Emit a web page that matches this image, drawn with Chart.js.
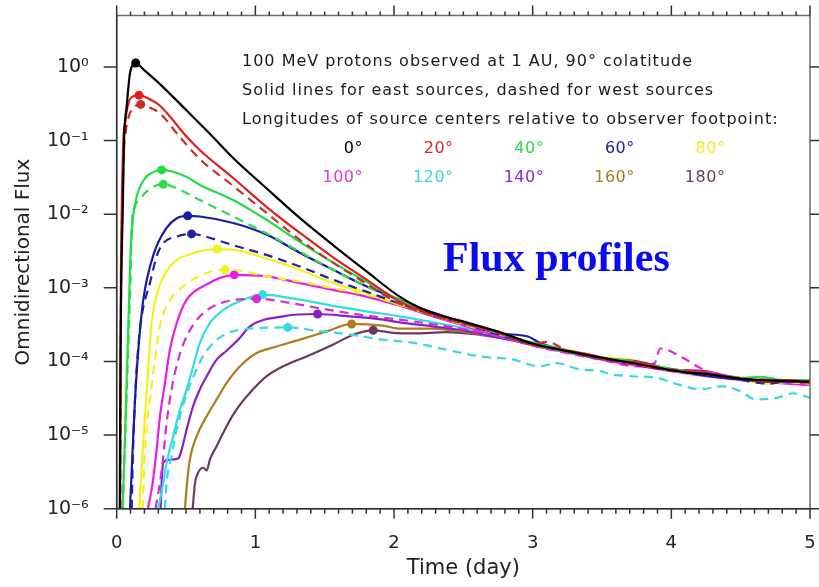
<!DOCTYPE html>
<html>
<head>
<meta charset="utf-8">
<title>Flux profiles</title>
<script src="https://cdn.jsdelivr.net/npm/chart.js@4.4.0/dist/chart.umd.min.js"></script>
<style>
    html, body { margin: 0; padding: 0; background: #fff; }
    #wrap { width: 819px; height: 587px; }
</style>
</head>
<body>
<div id="wrap"><canvas id="fluxChart" width="819" height="587"></canvas></div>
<script>
// [time (day), omnidirectional flux]
const east0 = [[0.022,1e-6],[0.027,1e-4],[0.032,1e-3],[0.043,1e-2],[0.053,0.1],[0.072,0.29],[0.096,0.82],[0.137,1.13],[0.2,0.9],[0.31,0.59],[0.51,0.25],[0.67,0.125],[0.84,0.058],[1.08,0.0225],[1.32,0.0089],[1.56,0.0038],[1.8,0.00168],[2.04,7.6e-4],[2.2,5.2e-4],[2.4,3.9e-4],[2.52,3.4e-4],[2.76,2.5e-4],[3.0,1.75e-4],[3.25,1.38e-4],[3.5,1.12e-4],[3.75,9.3e-5],[4.0,7.6e-5],[4.13,7.0e-5],[4.25,6.8e-5],[4.5,5.8e-5],[4.62,5.6e-5],[4.75,5.5e-5],[5.0,5.3e-5]];
const east20 = [[0.025,1e-6],[0.03,1e-3],[0.036,1e-2],[0.048,0.1],[0.06,0.171],[0.084,0.32],[0.12,0.4],[0.161,0.414],[0.22,0.38],[0.31,0.3],[0.51,0.11],[0.6,0.074],[0.84,0.031],[1.08,0.0126],[1.32,0.0056],[1.56,0.0026],[1.8,0.0013],[2.04,6.5e-4],[2.28,4.4e-4],[2.52,3.3e-4],[2.76,2.5e-4],[3.0,1.7e-4],[3.2,1.45e-4],[3.4,1.25e-4],[3.6,1.03e-4],[3.8,9.5e-5],[4.0,7.5e-5],[4.15,7.2e-5],[4.3,6.5e-5],[4.5,5.9e-5],[4.7,5.3e-5],[4.85,5.6e-5],[5.0,5.1e-5]];
const west20 = [[0.026,1e-6],[0.032,1e-3],[0.04,1e-2],[0.05,0.06],[0.065,0.13],[0.09,0.22],[0.13,0.29],[0.173,0.31],[0.22,0.29],[0.31,0.236],[0.45,0.115],[0.6,0.056],[0.84,0.0242],[1.08,0.0104],[1.32,0.0045],[1.56,0.0022],[1.8,0.00114],[2.04,6.1e-4],[2.28,4.2e-4],[2.52,3.2e-4],[2.76,2.4e-4],[3.0,1.72e-4],[3.1,1.85e-4],[3.25,1.4e-4],[3.5,1.08e-4],[3.75,9e-5],[4.0,7.8e-5],[4.25,7.2e-5],[4.45,6.0e-5],[4.7,5.6e-5],[5.0,5.4e-5]];
const east40 = [[0.043,1e-6],[0.06,1e-5],[0.076,1e-4],[0.092,1e-3],[0.1,3e-3],[0.115,8e-3],[0.144,0.0173],[0.204,0.0307],[0.26,0.037],[0.324,0.04],[0.4,0.038],[0.505,0.032],[0.6,0.025],[0.84,0.0156],[1.08,0.0084],[1.32,0.0042],[1.56,0.0022],[1.8,0.00122],[2.04,6.8e-4],[2.28,4.5e-4],[2.52,3.3e-4],[2.76,2.4e-4],[3.0,1.8e-4],[3.25,1.42e-4],[3.5,1.12e-4],[3.7,1.02e-4],[3.9,8.6e-5],[4.1,7.4e-5],[4.3,6.6e-5],[4.5,6.0e-5],[4.65,6.2e-5],[4.8,5.6e-5],[5.0,5.6e-5]];
const west40 = [[0.045,1e-6],[0.062,1e-5],[0.08,1e-4],[0.098,1e-3],[0.108,0.0068],[0.13,0.0125],[0.18,0.0173],[0.264,0.0237],[0.336,0.0255],[0.42,0.023],[0.6,0.0156],[0.84,0.0093],[1.08,0.0055],[1.32,0.0031],[1.56,0.00176],[1.8,0.00105],[2.04,6.4e-4],[2.28,4.4e-4],[2.52,3.2e-4],[2.76,2.5e-4],[3.0,1.75e-4],[3.25,1.36e-4],[3.5,1.1e-4],[3.75,9.6e-5],[4.0,7.7e-5],[4.25,6.8e-5],[4.5,5.9e-5],[4.75,5.5e-5],[5.0,5.4e-5]];
const east60 = [[0.096,1e-6],[0.115,6.4e-6],[0.132,3e-5],[0.156,1.45e-4],[0.192,6.9e-4],[0.27,3e-3],[0.36,6.5e-3],[0.433,8.8e-3],[0.512,0.0095],[0.6,0.0093],[0.84,0.0076],[1.08,0.0053],[1.32,0.003],[1.56,0.00176],[1.8,0.00105],[2.04,6.9e-4],[2.28,4.6e-4],[2.52,3.3e-4],[2.76,2.4e-4],[2.96,2.2e-4],[3.05,1.8e-4],[3.25,1.4e-4],[3.5,1.1e-4],[3.75,1.0e-4],[4.0,7.8e-5],[4.25,6.4e-5],[4.5,5.7e-5],[4.75,5.3e-5],[5.0,5.3e-5]];
const west60 = [[0.108,1e-6],[0.118,6.4e-6],[0.132,3e-5],[0.154,1.45e-4],[0.18,4.1e-4],[0.24,1.17e-3],[0.288,2.67e-3],[0.336,4.05e-3],[0.433,4.97e-3],[0.54,0.0054],[0.6,0.0052],[0.84,0.0038],[1.08,0.0028],[1.32,0.00195],[1.56,0.00129],[1.8,8.9e-4],[2.04,6.1e-4],[2.28,4.3e-4],[2.52,3.2e-4],[2.76,2.3e-4],[3.0,1.7e-4],[3.25,1.38e-4],[3.5,1.08e-4],[3.75,9.0e-5],[4.0,7.5e-5],[4.25,6.6e-5],[4.5,5.6e-5],[4.7,5.0e-5],[4.85,5.4e-5],[5.0,5.2e-5]];
const east80 = [[0.163,1e-6],[0.18,3.8e-6],[0.204,1.8e-5],[0.228,8.6e-5],[0.252,3.3e-4],[0.3,9.4e-4],[0.384,1.95e-3],[0.552,2.96e-3],[0.725,3.36e-3],[0.84,3.3e-3],[1.08,2.5e-3],[1.32,1.76e-3],[1.56,1.16e-3],[1.8,8.5e-4],[2.04,5.9e-4],[2.28,4.3e-4],[2.52,3.2e-4],[2.76,2.4e-4],[3.0,1.8e-4],[3.25,1.4e-4],[3.5,1.15e-4],[3.7,1.05e-4],[3.95,8.2e-5],[4.2,6.8e-5],[4.45,6.0e-5],[4.7,5.0e-5],[4.85,5.3e-5],[5.0,5.6e-5]];
const west80 = [[0.187,1e-6],[0.204,6.4e-6],[0.24,3.05e-5],[0.276,1.06e-4],[0.312,3e-4],[0.372,6.2e-4],[0.48,1.05e-3],[0.649,1.59e-3],[0.781,1.76e-3],[0.9,1.7e-3],[1.08,1.43e-3],[1.32,1.22e-3],[1.56,9.9e-4],[1.8,8.1e-4],[2.04,5.9e-4],[2.28,4.2e-4],[2.52,3.1e-4],[2.76,2.35e-4],[3.0,1.75e-4],[3.25,1.45e-4],[3.5,1.1e-4],[3.75,9.4e-5],[4.0,7.5e-5],[4.25,6.5e-5],[4.5,5.9e-5],[4.75,5.4e-5],[5.0,5.0e-5]];
const east100 = [[0.225,1e-6],[0.26,2.26e-6],[0.288,6.4e-6],[0.312,1.8e-5],[0.348,5.1e-5],[0.384,1.45e-4],[0.433,3.33e-4],[0.505,6.9e-4],[0.624,1.05e-3],[0.848,1.5e-3],[1.08,1.43e-3],[1.32,1.16e-3],[1.56,9.4e-4],[1.8,7.6e-4],[2.04,5.7e-4],[2.28,4.1e-4],[2.52,3.0e-4],[2.76,2.2e-4],[3.0,1.7e-4],[3.25,1.35e-4],[3.5,1.06e-4],[3.75,8.8e-5],[4.0,7.4e-5],[4.25,6.3e-5],[4.5,5.6e-5],[4.75,5.1e-5],[5.0,4.8e-5]];
const west100 = [[0.28,1e-6],[0.312,2.26e-6],[0.336,5.2e-6],[0.36,1.47e-5],[0.396,4.2e-5],[0.444,1.06e-4],[0.505,2.2e-4],[0.6,4.1e-4],[0.721,5.9e-4],[0.865,6.9e-4],[1.009,7.1e-4],[1.32,5.9e-4],[1.56,4.9e-4],[1.8,4.2e-4],[2.04,3.7e-4],[2.28,3.2e-4],[2.52,2.7e-4],[2.76,2.2e-4],[3.0,1.65e-4],[3.25,1.3e-4],[3.5,1.05e-4],[3.75,8.6e-5],[3.88,9.5e-5],[3.92,1.5e-4],[4.08,1.13e-4],[4.23,7.8e-5],[4.5,5.9e-5],[4.75,5.2e-5],[5.0,4.9e-5]];
const east120 = [[0.3,1e-6],[0.336,2.26e-6],[0.36,4.2e-6],[0.408,9.7e-6],[0.456,2.23e-5],[0.505,4.2e-5],[0.552,8.6e-5],[0.6,1.79e-4],[0.673,3.33e-4],[0.769,5e-4],[0.913,6.9e-4],[1.053,8.1e-4],[1.32,6.9e-4],[1.56,5.7e-4],[1.8,4.8e-4],[2.04,4.1e-4],[2.28,3.4e-4],[2.52,2.8e-4],[2.76,2.2e-4],[3.0,1.68e-4],[3.25,1.32e-4],[3.5,1.07e-4],[3.75,9.0e-5],[4.0,7.5e-5],[4.25,6.5e-5],[4.5,5.7e-5],[4.75,5.3e-5],[5.0,5.0e-5]];
const west120 = [[0.348,1e-6],[0.36,2.26e-6],[0.396,5.2e-6],[0.433,1.2e-5],[0.469,2.2e-5],[0.516,4.2e-5],[0.565,7e-5],[0.624,1.19e-4],[0.697,1.79e-4],[0.793,2.4e-4],[0.889,2.7e-4],[1.05,2.85e-4],[1.233,2.9e-4],[1.45,2.6e-4],[1.7,2.3e-4],[1.9,2.0e-4],[2.14,1.79e-4],[2.38,1.44e-4],[2.62,1.17e-4],[2.86,1.06e-4],[3.05,8.6e-5],[3.17,9.5e-5],[3.34,7.8e-5],[3.49,7.4e-5],[3.56,6.7e-5],[3.72,6.3e-5],[3.89,6.0e-5],[4.06,4.8e-5],[4.21,4.2e-5],[4.37,4.6e-5],[4.49,4.0e-5],[4.61,3.05e-5],[4.76,3.2e-5],[4.88,3.7e-5],[5.0,3.2e-5]];
const east140 = [[0.317,1e-6],[0.324,2.26e-6],[0.336,4.2e-6],[0.372,4.6e-6],[0.444,4.8e-6],[0.469,6.4e-6],[0.505,1.2e-5],[0.552,2.5e-5],[0.6,4.2e-5],[0.649,6.3e-5],[0.721,1.06e-4],[0.793,1.4e-4],[0.877,1.98e-4],[0.961,3e-4],[1.2,4.1e-4],[1.449,4.41e-4],[1.68,4.1e-4],[1.92,3.7e-4],[2.04,3.4e-4],[2.28,3.0e-4],[2.52,2.6e-4],[2.76,2.1e-4],[3.0,1.7e-4],[3.25,1.35e-4],[3.5,1.1e-4],[3.75,9.2e-5],[4.0,7.6e-5],[4.2,7.5e-5],[4.4,6.4e-5],[4.6,5.6e-5],[4.8,5.5e-5],[5.0,5.0e-5]];
const east160 = [[0.492,1e-6],[0.505,2e-6],[0.528,4.7e-6],[0.577,9.7e-6],[0.649,1.8e-5],[0.721,3.05e-5],[0.793,5.1e-5],[0.889,8.6e-5],[1.009,1.3e-4],[1.154,1.6e-4],[1.322,1.98e-4],[1.514,2.56e-4],[1.694,3.23e-4],[1.92,3.06e-4],[2.04,2.8e-4],[2.28,2.8e-4],[2.52,2.5e-4],[2.76,2.1e-4],[3.0,1.7e-4],[3.25,1.35e-4],[3.5,1.1e-4],[3.75,9.4e-5],[4.0,7.7e-5],[4.25,6.8e-5],[4.5,5.8e-5],[4.75,5.6e-5],[5.0,5.3e-5]];
const east180 = [[0.548,1e-6],[0.565,2.26e-6],[0.588,3.1e-6],[0.624,3.6e-6],[0.649,3.3e-6],[0.673,4.7e-6],[0.721,7.1e-6],[0.793,1.32e-5],[0.865,2.23e-5],[0.961,3.75e-5],[1.082,6.3e-5],[1.201,8.6e-5],[1.37,1.17e-4],[1.562,1.7e-4],[1.706,2.31e-4],[1.85,2.65e-4],[1.994,2.44e-4],[2.14,2.4e-4],[2.38,2.5e-4],[2.62,2.3e-4],[2.86,1.95e-4],[3.0,1.65e-4],[3.25,1.32e-4],[3.5,1.08e-4],[3.75,9.1e-5],[4.0,7.6e-5],[4.25,6.6e-5],[4.5,5.7e-5],[4.75,5.3e-5],[5.0,5.0e-5]];

const longitudes = ['0°', '20°', '40°', '60°', '80°', '100°', '120°', '140°', '160°', '180°'];
const lonColors = ['#000000', '#d42a2a', '#2ed84a', '#22229e', '#eeee2a', '#d83ad8', '#3ad8d8', '#8a2ac8', '#b07a22', '#6b3a5e'];
const xTicks = [0, 1, 2, 3, 4, 5];
const yTicks = [1e-6, 1e-5, 1e-4, 1e-3, 1e-2, 1e-1, 1];
const noteLines = [
    '100 MeV protons observed at 1 AU, 90° colatitude',
    'Solid lines for east sources, dashed for west sources',
    'Longitudes of source centers relative to observer footpoint:'
];

// curves: black on top, so listed first
const curves = [
    { data: east0, color: '#000000', dashed: false },
    { data: east20, color: '#e0201c', dashed: false },
    { data: west20, color: '#c8302e', dashed: true },
    { data: east40, color: '#22dd44', dashed: false },
    { data: west40, color: '#30dc50', dashed: true },
    { data: east60, color: '#1a1aa8', dashed: false },
    { data: west60, color: '#1f249c', dashed: true },
    { data: east80, color: '#f2f21c', dashed: false },
    { data: west80, color: '#f2f21c', dashed: true },
    { data: east100, color: '#e61ee6', dashed: false },
    { data: west100, color: '#d82ad8', dashed: true },
    { data: east120, color: '#2ee0e0', dashed: false },
    { data: west120, color: '#3ad8e0', dashed: true },
    { data: east140, color: '#8a1fc8', dashed: false },
    { data: east160, color: '#b07a1e', dashed: false },
    { data: east180, color: '#6b3a5e', dashed: false }
];

const supers = { '-': '⁻', '0': '⁰', '1': '¹', '2': '²', '3': '³', '4': '⁴', '5': '⁵', '6': '⁶', '7': '⁷', '8': '⁸', '9': '⁹' };
function powerLabel(v) {
    const e = String(Math.round(Math.log10(v)));
    return '10' + e.split('').map(c => supers[c]).join('');
}

const datasets = curves.map(c => {
    // dot on the maximum of each profile
    const peak = c.data.reduce((best, p, i, arr) => p[1] > arr[best][1] ? i : best, 0);
    return {
        data: c.data.map(p => ({ x: p[0], y: p[1] })),
        borderColor: c.color,
        backgroundColor: c.color,
        borderWidth: 2.2,
        borderDash: c.dashed ? [9, 6] : [],
        cubicInterpolationMode: 'monotone',
        pointRadius: ctx => ctx.dataIndex === peak ? 4.5 : 0,
        pointBorderWidth: 0,
        pointBackgroundColor: c.color
    };
});

// frame, tick marks and the text block
const framePlugin = {
    id: 'frame',
    afterDraw(chart) {
        const { ctx, chartArea: a, scales: { x, y } } = chart;
        ctx.save();
        ctx.lineWidth = 1.5;
        ctx.strokeStyle = '#6a6a6a';
        ctx.strokeRect(a.left, a.top, a.right - a.left, a.bottom - a.top);
        ctx.strokeStyle = '#333';
        ctx.beginPath();
        ctx.moveTo(a.left, a.top);
        ctx.lineTo(a.left, a.bottom);
        ctx.lineTo(a.right, a.bottom);
        ctx.stroke();

        ctx.beginPath();
        for (let i = 0; i <= 50; i++) {
            const px = x.getPixelForValue(i / 10);
            const major = i % 10 === 0;
            ctx.moveTo(px, a.bottom);
            ctx.lineTo(px, a.bottom + (major ? 10 : 5));
            ctx.moveTo(px, a.top);
            ctx.lineTo(px, a.top - (major ? 10 : 4));
        }
        yTicks.forEach(v => {
            const py = y.getPixelForValue(v);
            ctx.moveTo(a.left - 13, py);
            ctx.lineTo(a.left, py);
            ctx.moveTo(a.right, py);
            ctx.lineTo(a.right + 10, py);
        });
        ctx.stroke();

        ctx.fillStyle = '#1a1a1a';
        ctx.font = '16px "DejaVu Sans"';
        ctx.letterSpacing = '1px';
        ctx.textBaseline = 'middle';
        ctx.textAlign = 'left';
        noteLines.forEach((t, i) => ctx.fillText(t, 242, 62 + i * 29));

        ctx.textAlign = 'right';
        ctx.letterSpacing = '0.5px';
        longitudes.forEach((t, i) => {
            ctx.fillStyle = lonColors[i];
            ctx.fillText(t, 363 + (i % 5) * 90.6, i < 5 ? 149 : 178);
        });

        ctx.letterSpacing = '0px';
        ctx.fillStyle = '#0a0af5';
        ctx.font = 'bold 42px "Liberation Serif"';
        ctx.textAlign = 'left';
        ctx.textBaseline = 'alphabetic';
        ctx.fillText('Flux profiles', 443, 271);
        ctx.restore();
    }
};

const chart = new Chart(document.getElementById('fluxChart').getContext('2d'), {
    type: 'line',
    data: { datasets: datasets },
    options: {
        responsive: false,
        animation: false,
        layout: { padding: { left: 0, top: 15.5, right: 9, bottom: 0 } },
        plugins: { legend: { display: false }, tooltip: { enabled: false } },
        scales: {
            x: {
                type: 'linear',
                min: 0,
                max: 5,
                afterBuildTicks: s => { s.ticks = xTicks.map(v => ({ value: v })); },
                afterFit: s => { s.height = 78.3; s.paddingLeft = 0; s.paddingRight = 0; },
                grid: { display: false, drawTicks: false },
                border: { display: false },
                ticks: { color: '#222', font: { family: 'DejaVu Sans', size: 18 }, padding: 24, maxRotation: 0 },
                title: { display: true, text: 'Time (day)', color: '#222', font: { family: 'DejaVu Sans', size: 21 }, padding: { top: 0, bottom: 6 } }
            },
            y: {
                type: 'logarithmic',
                min: 1e-6,
                max: 5,
                afterBuildTicks: s => { s.ticks = yTicks.map(v => ({ value: v })); },
                afterFit: s => { s.width = 116.7; s.paddingTop = 0; s.paddingBottom = 0; },
                grid: { display: false, drawTicks: false },
                border: { display: false },
                ticks: { color: '#222', font: { family: 'DejaVu Sans', size: 19 }, padding: 28, autoSkip: false, callback: v => powerLabel(v) },
                title: { display: true, text: 'Omnidirectional Flux', color: '#222', font: { family: 'DejaVu Sans', size: 20 }, padding: { top: 12, bottom: 0 } }
            }
        }
    },
    plugins: [framePlugin]
});
</script>
</body>
</html>
